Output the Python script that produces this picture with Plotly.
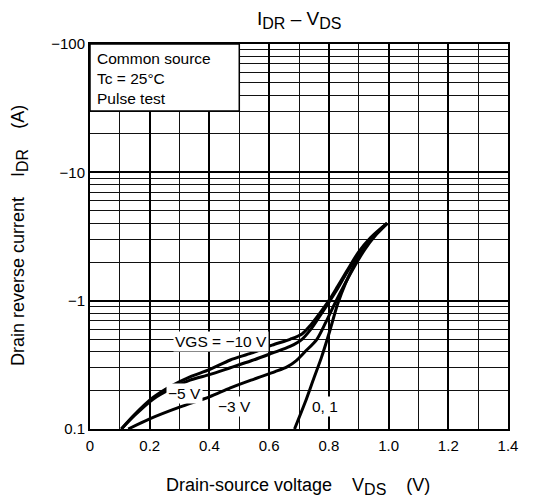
import numpy as np
import plotly.graph_objects as go

# ---- data ----
vds_m10 = [0.105, 0.15, 0.21, 0.27, 0.335, 0.40, 0.47, 0.54, 0.61, 0.67, 0.71, 0.74, 0.77, 0.80, 0.83, 0.86, 0.90, 0.94, 0.97, 0.995]
idr_m10 = [0.1, 0.13, 0.175, 0.215, 0.255, 0.29, 0.345, 0.39, 0.45, 0.50, 0.55, 0.65, 0.80, 1.0, 1.3, 1.7, 2.4, 3.1, 3.6, 4.0]

vds_m5 = [0.105, 0.15, 0.21, 0.27, 0.335, 0.40, 0.47, 0.54, 0.61, 0.67, 0.71, 0.74, 0.77, 0.80, 0.83, 0.86, 0.90, 0.94, 0.97, 0.995]
idr_m5 = [0.1, 0.128, 0.17, 0.205, 0.24, 0.265, 0.30, 0.34, 0.39, 0.44, 0.50, 0.60, 0.76, 0.97, 1.25, 1.65, 2.3, 3.0, 3.5, 4.0]

vds_m3 = [0.128, 0.2, 0.3, 0.4, 0.47, 0.55, 0.62, 0.66, 0.69, 0.72, 0.76, 0.79, 0.82, 0.85, 0.88, 0.92, 0.96, 0.995]
idr_m3 = [0.1, 0.12, 0.148, 0.178, 0.209, 0.245, 0.28, 0.305, 0.34, 0.40, 0.50, 0.68, 0.95, 1.3, 1.75, 2.5, 3.3, 4.0]

vds_01 = [0.685, 0.72, 0.75, 0.775, 0.80, 0.83, 0.855, 0.88, 0.905, 0.935, 0.965, 0.995]
idr_01 = [0.1, 0.16, 0.25, 0.36, 0.55, 0.95, 1.35, 1.8, 2.3, 2.9, 3.45, 4.0]

x_ticks = [0, 0.2, 0.4, 0.6, 0.8, 1.0, 1.2, 1.4]
x_ticktext = ["0", "0.2", "0.4", "0.6", "0.8", "1.0", "1.2", "1.4"]
y_ticks = [0.1, 1, 10, 100]
y_ticktext = ["0.1", "\u22121", "\u221210", "\u2212100"]
y_minor = [m * d for d in (0.1, 1, 10) for m in range(2, 10)]

curve_labels = [
    ("VGS = \u221210 V", 0.44, 0.48),
    ("\u22125 V", 0.315, 0.188),
    ("\u22123 V", 0.485, 0.149),
    ("0, 1", 0.787, 0.149),
]
box_text = "Common source<br>Tc = 25\u00b0C<br>Pulse test"

FONT = "Liberation Sans, Arial, sans-serif"


def sub(s, px):
    return "<sub><span style='font-size:%dpx'>%s</span></sub>" % (px, s)


fig = go.Figure()
for xs, ys in [(vds_m10, idr_m10), (vds_m5, idr_m5), (vds_m3, idr_m3), (vds_01, idr_01)]:
    fig.add_trace(go.Scatter(x=xs, y=ys, mode="lines",
                             line=dict(color="black", width=3, shape="spline", smoothing=0.8),
                             showlegend=False, hoverinfo="skip"))

# plot area: px 90..508 horizontally, 44..429 vertically (page has 8px body margin)
fig.update_layout(
    width=533, height=500,
    margin=dict(l=82, r=33, t=36, b=79),
    paper_bgcolor="white", plot_bgcolor="white",
    font=dict(family=FONT, size=15, color="black"),
    showlegend=False,
)
fig.update_xaxes(
    range=[0, 1.4], tickvals=x_ticks, ticktext=x_ticktext, ticks="",
    showgrid=True, gridcolor="black", gridwidth=2,
    minor=dict(dtick=0.1, tick0=0, showgrid=True, gridcolor="#111", gridwidth=1.3),
    showline=True, linecolor="black", linewidth=2, mirror=True,
    zeroline=False, tickfont=dict(size=15), ticklabelstandoff=2,
)
fig.update_yaxes(
    type="log", range=[-1, 2], tickvals=y_ticks, ticktext=y_ticktext, ticks="",
    showgrid=True, gridcolor="black", gridwidth=2,
    minor=dict(tickvals=y_minor, showgrid=True, gridcolor="#111", gridwidth=1.3),
    showline=True, linecolor="black", linewidth=2, mirror=True,
    zeroline=False, tickfont=dict(size=15), ticklabelstandoff=0,
)

# conditions box (white, covers the grid)
fig.add_shape(type="rect", xref="x domain", yref="y domain",
              x0=0, x1=0.5 / 1.4, y0=(np.log10(30) + 1) / 3, y1=1,
              fillcolor="white", line=dict(color="black", width=1.5), layer="above")
fig.add_annotation(xref="x domain", yref="y domain", x=0.012, y=0.99,
                   xanchor="left", yanchor="top", align="left", showarrow=False,
                   text=box_text, font=dict(size=15.5, family=FONT))

for txt, xv, yv in curve_labels:
    fig.add_annotation(x=xv, y=np.log10(yv), text=txt, showarrow=False,
                       xanchor="center", yanchor="middle",
                       bgcolor="white", borderpad=1, font=dict(size=15.5, family=FONT))

fig.add_annotation(xref="paper", yref="paper", x=(299 - 90) / 418, y=(429 - 20) / 385,
                   xanchor="center", yanchor="middle",
                   text="I" + sub("DR", 16) + " \u2013 V" + sub("DS", 16), showarrow=False,
                   font=dict(size=19, family=FONT))
fig.add_annotation(xref="paper", yref="paper", x=(298 - 90) / 418, y=-(486 - 429) / 385,
                   xanchor="center", yanchor="middle",
                   text="Drain-source voltage    V" + sub("DS", 16) + "    (V)", showarrow=False,
                   font=dict(size=18, family=FONT))
fig.add_annotation(xref="paper", yref="paper", x=(19 - 90) / 418, y=(429 - 236) / 385,
                   xanchor="center", yanchor="middle",
                   text="Drain reverse current    I" + sub("DR", 16) + "    (A)", showarrow=False,
                   textangle=-90, font=dict(size=18, family=FONT))

fig.write_html("out.html")
